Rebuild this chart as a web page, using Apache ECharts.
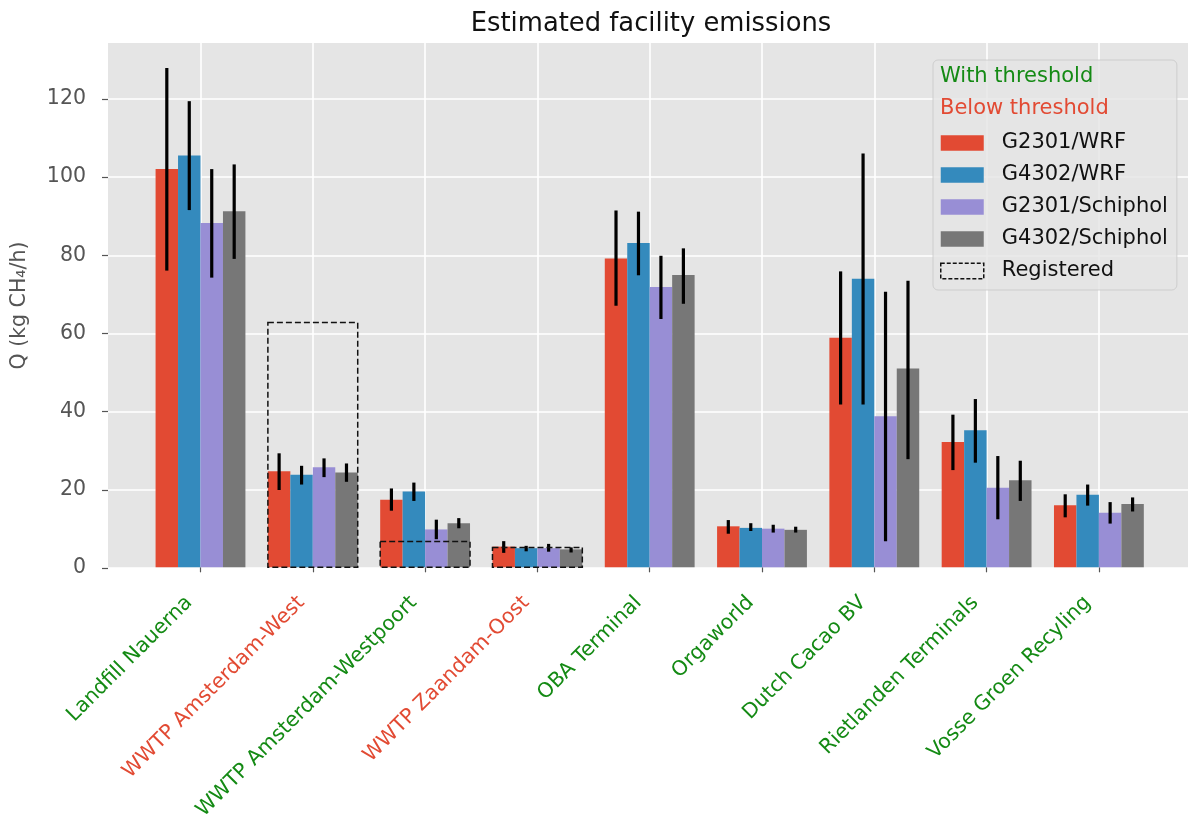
<!DOCTYPE html>
<html><head><meta charset="utf-8">
<script src="https://cdn.jsdelivr.net/npm/echarts@6/dist/echarts.min.js"></script>
<style>html,body{margin:0;padding:0;background:#fff}#chart{width:1188px;height:823px}</style>
</head><body><div id="chart"></div>
<script>
// ---------- data ----------
const categories = ['Landfill Nauerna','WWTP Amsterdam-West','WWTP Amsterdam-Westpoort','WWTP Zaandam-Oost','OBA Terminal','Orgaworld','Dutch Cacao BV','Rietlanden Terminals','Vosse Groen Recyling'];
const withThreshold = [true,false,true,false,true,true,true,true,true];
const seriesNames = ['G2301/WRF','G4302/WRF','G2301/Schiphol','G4302/Schiphol'];

const g2301WrfValues = [102.0,24.6,17.3,5.3,79.1,10.5,58.8,32.1,15.9];
const g2301WrfLow    = [76.0,19.8,14.5,3.7,67.0,8.6,41.7,24.9,12.8];
const g2301WrfHigh   = [127.9,29.2,20.2,6.7,91.4,12.1,75.8,39.1,18.7];

const g4302WrfValues = [105.5,23.7,19.4,4.9,83.1,10.1,73.9,35.1,18.6];
const g4302WrfLow    = [91.5,21.2,17.0,4.1,74.8,9.3,41.7,26.8,15.8];
const g4302WrfHigh   = [119.4,26.0,21.7,5.5,91.1,11.3,106.0,43.1,21.2];

const g2301SchValues = [88.2,25.6,9.7,4.9,71.8,9.9,38.7,20.4,14.0];
const g2301SchLow    = [74.2,23.1,7.2,4.0,63.6,8.9,6.7,12.3,11.2];
const g2301SchHigh   = [102.0,27.9,12.2,6.0,79.8,10.9,70.6,28.5,16.7];

const g4302SchValues = [91.2,24.3,11.3,4.6,74.9,9.6,50.9,22.3,16.2];
const g4302SchLow    = [79.0,21.9,10.0,3.8,67.5,8.9,27.7,17.0,14.3];
const g4302SchHigh   = [103.2,26.6,12.6,5.1,81.7,10.4,73.4,27.3,17.9];

const registeredValues = [null,62.7,6.6,5.1,null,null,null,null,null];

const yTickValues = [0,20,40,60,80,100,120];
const yMax = 134.3;

// ---------- styles ----------
const FONT = 'DejaVu Sans';
const colors = ['#E24A33','#348ABD','#988ED5','#777777'];
const GREEN = '#148A14';
const RED = '#E24A33';
const barWidth = 0.2;

const allValues = [g2301WrfValues,g4302WrfValues,g2301SchValues,g4302SchValues];
const allLow = [g2301WrfLow,g4302WrfLow,g2301SchLow,g4302SchLow];
const allHigh = [g2301WrfHigh,g4302WrfHigh,g2301SchHigh,g4302SchHigh];

function makeBarRender(k){
  const off = (k - 1.5) * barWidth;
  return function(params, api){
    const x = api.value(0), v = api.value(1), lo = api.value(2), hi = api.value(3);
    const p0 = api.coord([x + off - barWidth/2, v]);
    const p1 = api.coord([x + off + barWidth/2, 0]);
    const e0 = api.coord([x + off, hi]);
    const e1 = api.coord([x + off, lo]);
    return {type:'group', children:[
      {type:'rect', shape:{x:p0[0], y:p0[1], width:p1[0]-p0[0], height:p1[1]-p0[1]}, style:{fill:colors[k]}},
      {type:'line', z2:10, shape:{x1:e0[0], y1:e0[1], x2:e1[0], y2:e1[1]}, style:{stroke:'#000', lineWidth:3.2}}
    ]};
  };
}

const barSeries = seriesNames.map((name, k) => ({
  name: name,
  type: 'custom',
  xAxisIndex: 1, yAxisIndex: 1,
  clip: false,
  silent: true,
  itemStyle: {color: colors[k]},
  encode: {x: 0, y: 1},
  renderItem: makeBarRender(k),
  data: categories.map((c, i) => [i, allValues[k][i], allLow[k][i], allHigh[k][i]]),
  z: 3
}));

const regSeries = {
  name: 'Registered',
  type: 'custom',
  xAxisIndex: 1, yAxisIndex: 1,
  clip: false,
  silent: true,
  itemStyle: {color: 'rgba(0,0,0,0)', borderColor:'#000'},
  encode: {x: 0, y: 1},
  renderItem: function(params, api){
    const x = api.value(0), v = api.value(1);
    const p0 = api.coord([x - 2*barWidth, v]);
    const p1 = api.coord([x + 2*barWidth, 0]);
    return {type:'rect', shape:{x:p0[0], y:p0[1], width:p1[0]-p0[0], height:p1[1]-p0[1]},
      style:{fill:'none', stroke:'#111', lineWidth:1.5, lineDash:[6,3]}};
  },
  data: registeredValues.map((v, i) => v == null ? null : [i, v]).filter(d => d),
  z: 5
};

const labelRich = {
  g: {color: GREEN, fontSize: 20.5, fontFamily: FONT},
  r: {color: RED, fontSize: 20.5, fontFamily: FONT}
};

const option = {
  animation: false,
  backgroundColor: '#fff',
  textStyle: {fontFamily: FONT},
  title: {
    text: 'Estimated facility emissions',
    left: 646, top: 6, textAlign: 'center',
    textStyle: {fontSize: 25.8, fontWeight: 'normal', color: '#111', fontFamily: FONT}
  },
  grid: [
    {left: 108, top: 43, right: -6, bottom: 255, show: true, backgroundColor: '#E5E5E5', borderWidth: 0},
    {left: 200.5, top: 43, right: 89.1, bottom: 255}
  ],
  xAxis: [
    {gridIndex: 0, type: 'value', min: 0, max: 1, show: false},
    {gridIndex: 1, type: 'value', min: 0, max: 8, interval: 1,
      axisLine: {show: false},
      axisTick: {show: true, length: 5, lineStyle: {color: '#555', width: 1.2}},
      splitLine: {show: true, lineStyle: {color: '#fff', width: 1.6}},
      axisLabel: {
        rotate: 45, margin: 21, padding: [0, 16, 0, 0],
        formatter: v => (Number.isInteger(v) && categories[v] ? '{' + (withThreshold[v] ? 'g' : 'r') + '|' + categories[v] + '}' : ''),
        rich: labelRich
      }
    }
  ],
  yAxis: [
    {gridIndex: 0, type: 'value', min: 0, max: yMax, interval: 20,
      name: 'Q (kg CH₄/h)', nameLocation: 'middle', nameRotate: 90, nameGap: 78,
      nameTextStyle: {fontSize: 20.5, color: '#555', fontFamily: FONT},
      axisLine: {show: false},
      axisTick: {show: true, length: 6, lineStyle: {color: '#555', width: 1.2}, customValues: yTickValues},
      axisLabel: {color: '#555', fontSize: 20.5, fontFamily: FONT, margin: 22, customValues: yTickValues},
      splitLine: {show: true, lineStyle: {color: '#fff', width: 1.6}}
    },
    {gridIndex: 1, type: 'value', min: 0, max: yMax, show: false, splitLine: {show: false}}
  ],
  legend: {
    orient: 'vertical',
    left: 933, top: 60,
    padding: [72, 9, 8, 7],
    backgroundColor: 'rgba(229,229,229,0.8)',
    borderColor: 'rgba(200,200,200,0.8)', borderWidth: 1, borderRadius: 5,
    itemWidth: 43, itemHeight: 15.6, itemGap: 10,
    selectedMode: false,
    icon: 'rect',
    textStyle: {fontSize: 21, color: '#111', fontFamily: FONT, padding: [0, 0, 0, 13], lineHeight: 22},
    data: seriesNames.map(n => ({name: n})).concat([{
      name: 'Registered', icon: 'rect',
      itemStyle: {color: 'rgba(0,0,0,0)', borderColor: '#111', borderWidth: 1.5, borderType: [4, 2]}
    }])
  },
  graphic: [
    {type: 'text', z: 100, x: 940, y: 77, style: {text: 'With threshold', fill: GREEN, font: '21px "DejaVu Sans"', verticalAlign: 'middle'}},
    {type: 'text', z: 100, x: 940, y: 109, style: {text: 'Below threshold', fill: RED, font: '21px "DejaVu Sans"', verticalAlign: 'middle'}}
  ],
  series: barSeries.concat([regSeries])
};

const chart = echarts.init(document.getElementById('chart'), null, {renderer: 'canvas'});
chart.setOption(option);
</script>
</body></html>
